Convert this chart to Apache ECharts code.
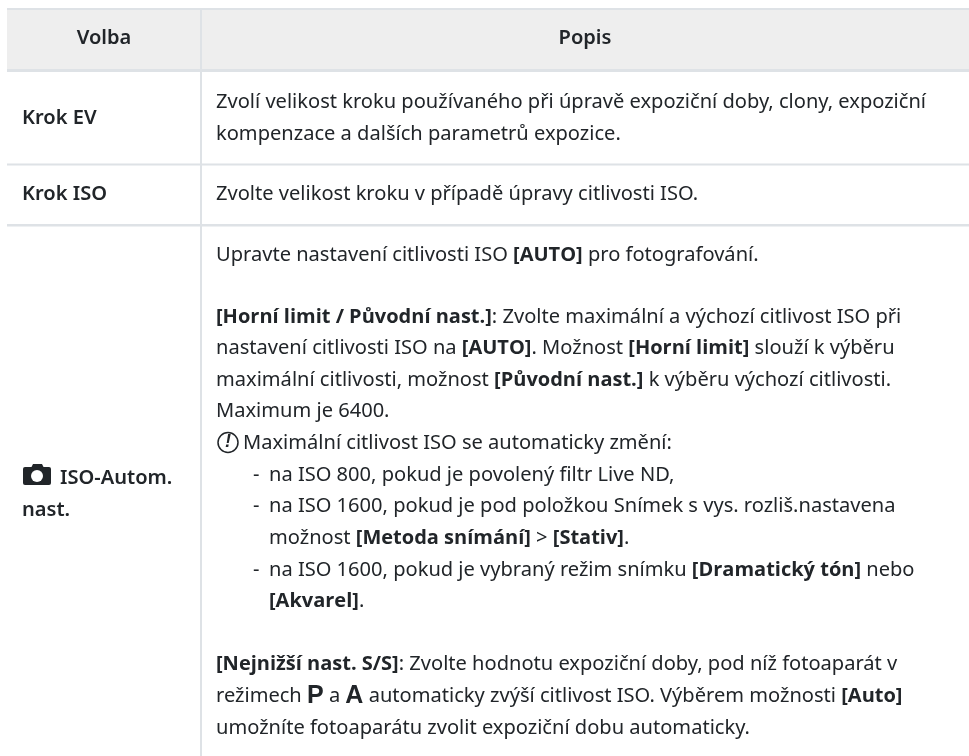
<!DOCTYPE html>
<html><head><meta charset="utf-8">
<style>html,body{margin:0;padding:0;background:#fff}#c{width:969px;height:756px}</style>
<script src="https://cdn.jsdelivr.net/npm/echarts@6/dist/echarts.min.js"></script>
</head><body><div id="c"></div>
<script>
const headers = ['Volba', 'Popis'];
const rowLabels = [['Krok EV'], ['Krok ISO'], ['ISO-Autom.', 'nast.']];
const row1Lines = [
  'Zvolí velikost kroku používaného při úpravě expoziční doby, clony, expoziční',
  'kompenzace a dalších parametrů expozice.'];
const row2Lines = ['Zvolte velikost kroku v případě úpravy citlivosti ISO.'];
const row3Lines = [
  'Upravte nastavení citlivosti ISO {b|[AUTO]} pro fotografování.',
  '{b|[Horní limit / Původní nast.]}: Zvolte maximální a výchozí citlivost ISO při',
  'nastavení citlivosti ISO na {b|[AUTO]}. Možnost {b|[Horní limit]} slouží k výběru',
  'maximální citlivosti, možnost {b|[Původní nast.]} k výběru výchozí citlivosti.',
  'Maximum je 6400.',
  'Maximální citlivost ISO se automaticky změní:',
  'na ISO 800, pokud je povolený filtr Live ND,',
  'na ISO 1600, pokud je pod položkou Snímek s vys. rozliš.nastavena',
  'možnost {b|[Metoda snímání]} > {b|[Stativ]}.',
  'na ISO 1600, pokud je vybraný režim snímku {b|[Dramatický tón]} nebo',
  '{b|[Akvarel]}.',
  '{b|[Nejnižší nast. S/S]}: Zvolte hodnotu expoziční doby, pod níž fotoaparát v',
  'režimech {big|P} a {big|A} automaticky zvýší citlivost ISO. Výběrem možnosti {b|[Auto]}',
  'umožníte fotoaparátu zvolit expoziční dobu automaticky.'];

const FONT = '"Noto Sans"', FS = 20.08, INK = '#212529', LINE = '#dee2e6', BOLD = 600;
const rich = {
  b: {fontFamily: '"Open Sans"', fontSize: 20, fontWeight: 700, fill: INK, color: INK},
  big: {fontFamily: '"Liberation Sans"', fontSize: 25, fontWeight: 700, fill: INK, color: INK}
};
const W = 969, H = 756, L = 7, SPLIT = 201;
const els = [];
const rect = (x, y, w, h, fill) => els.push({type: 'rect', shape: {x, y, width: w, height: h}, style: {fill}, silent: true});
const text = (x, y, t, o = {}) => els.push({type: 'text', x, y, silent: true, style: Object.assign({
  text: t, fontFamily: FONT, fontSize: FS, fill: INK, verticalAlign: 'middle', rich}, o)});

rect(L, 10, W - L, 60, '#eeeeee');
rect(L, 8, W - L, 2, LINE);
rect(L, 69, W - L, 3, LINE);
rect(L, 163.5, W - L, 2, LINE);
rect(L, 224, W - L, 2.5, LINE);
rect(SPLIT - 1, 10, 2, H - 10, LINE);

text(104, 38.5, headers[0], {fontWeight: BOLD, align: 'center'});
text(585, 38.5, headers[1], {fontWeight: BOLD, align: 'center'});

text(22, 118, rowLabels[0][0], {fontWeight: BOLD});
text(22, 194, rowLabels[1][0], {fontWeight: BOLD});
text(60, 478, rowLabels[2][0], {fontWeight: BOLD});
text(22, 510, rowLabels[2][1], {fontWeight: BOLD});

const X = 216;
row1Lines.forEach((s, i) => text(X, 102 + i * 32, s));
row2Lines.forEach((s) => text(X, 194, s));
const row3Y = [255, 317, 348, 380, 411, 443, 475, 506, 538, 570, 601, 664, 696, 728];
const row3X = [216, 216, 216, 216, 216, 243, 269, 269, 269, 269, 269, 216, 216, 216];
row3Lines.forEach((s, i) => text(row3X[i], row3Y[i], s));
[475, 506, 570].forEach(y => text(253, y, '-'));

// warning glyph
els.push({type: 'circle', shape: {cx: 228, cy: 442.5, r: 10}, style: {fill: 'none', stroke: INK, lineWidth: 1.5}, silent: true});
text(228, 442.5, '!', {fontFamily: '"Liberation Sans"', fontWeight: 700, fontStyle: 'italic', align: 'center', fontSize: 18});

// camera glyph
els.push({type: 'rect', silent: true, shape: {x: 23, y: 467, width: 28, height: 18, r: 2}, style: {fill: INK}});
els.push({type: 'polygon', silent: true, shape: {points: [[31, 468], [33, 464], [42, 464], [44, 468]]}, style: {fill: INK}});
els.push({type: 'circle', silent: true, shape: {cx: 37, cy: 476, r: 6}, style: {fill: '#fff'}});

echarts.init(document.getElementById('c'), null, {renderer: 'canvas'}).setOption({
  animation: false, backgroundColor: '#ffffff', graphic: {elements: els}
});
</script></body></html>
